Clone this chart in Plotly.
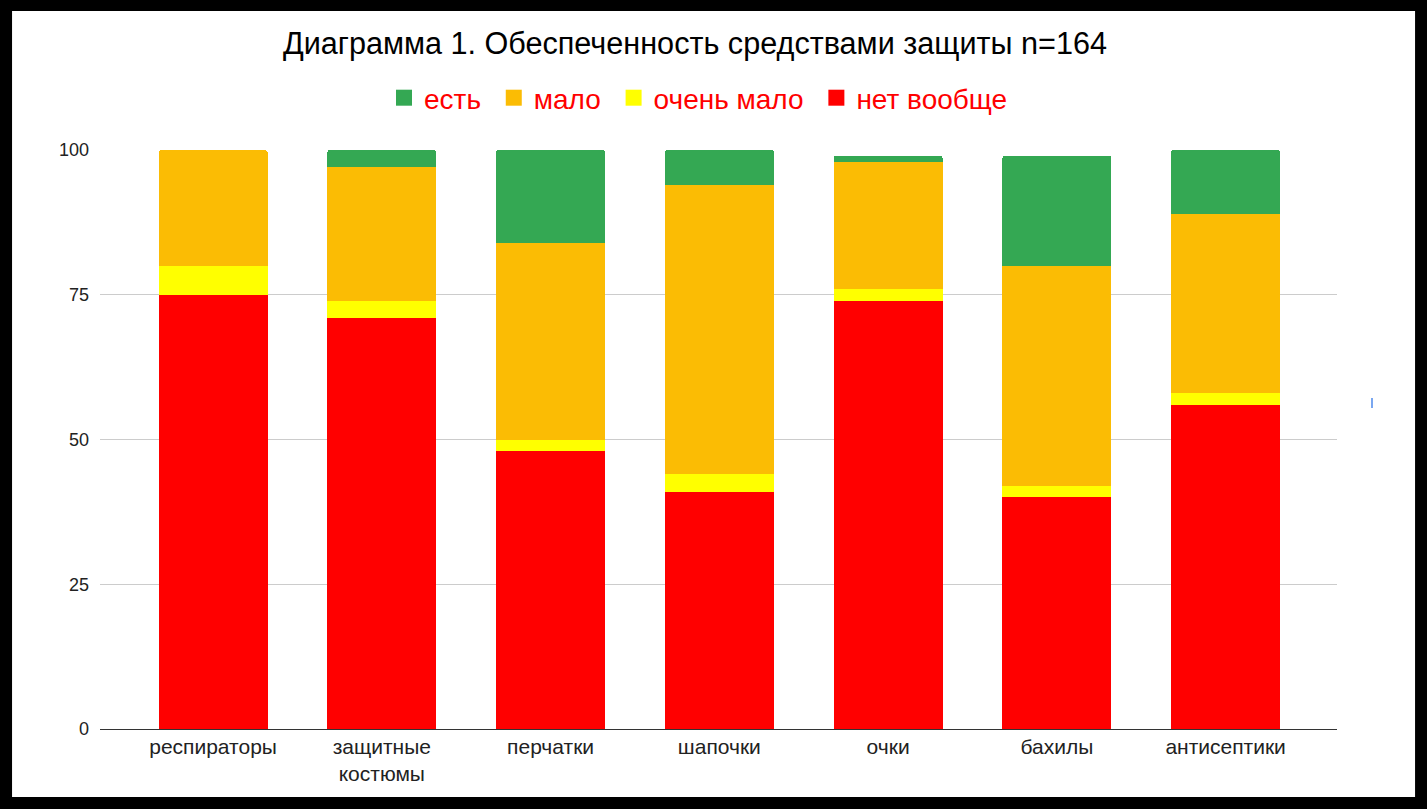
import plotly.graph_objects as go

categories = ["респираторы", "защитные<br>костюмы", "перчатки", "шапочки", "очки", "бахилы", "антисептики"]
net_voobshe = [75, 71, 48, 41, 74, 40, 56]
ochen_malo = [5, 3, 2, 3, 2, 2, 2]
malo = [20, 23, 34, 50, 22, 38, 31]
est = [0, 3, 16, 6, 1, 19, 11]
tick_vals = [0, 25, 50, 75, 100]

series = [
    ("нет вообще", net_voobshe, "#ff0000"),
    ("очень мало", ochen_malo, "#ffff00"),
    ("мало", malo, "#fbbc04"),
    ("есть", est, "#34a853"),
]

FONT = "Arial, Liberation Sans, sans-serif"
fig = go.Figure()
x_idx = list(range(len(categories)))
for name, vals, color in series:
    fig.add_trace(go.Bar(x=x_idx, y=vals, name=name, marker=dict(color=color, line=dict(width=0)),
                         showlegend=False))
# legend entries (ordered: есть, мало, очень мало, нет вообще)
for name, vals, color in reversed(series):
    fig.add_trace(go.Scatter(x=[None], y=[None], mode="markers", name=name + "\u00a0",
                             marker=dict(symbol="square", size=18, color=color)))

fig.update_layout(
    barmode="stack",
    bargap=0.354,
    barcornerradius=3,
    width=1427, height=809,
    paper_bgcolor="black",
    plot_bgcolor="white",
    margin=dict(l=100, r=90, t=150, b=80),
    font=dict(family=FONT, color="#222222"),
    title=dict(text="Диаграмма 1. Обеспеченность средствами защиты n=164",
               xref="container", x=0.487, xanchor="center",
               yref="container", y=1 - 43 / 809, yanchor="middle",
               font=dict(size=30.6, color="#000000", family=FONT)),
    legend=dict(orientation="h", traceorder="normal", xref="container", x=702 / 1427, xanchor="center",
                yref="container", y=1 - 98 / 809, yanchor="middle",
                font=dict(size=28, color="#ff0000", family=FONT),
                bgcolor="rgba(0,0,0,0)", itemwidth=30, tracegroupgap=0),
    xaxis=dict(range=[-0.67, 6.66], tickmode="array", tickvals=x_idx, ticktext=categories,
               tickfont=dict(size=21, color="#222222"), showgrid=False, zeroline=False,
               showline=False, ticks="", ticklabelstandoff=3),
    yaxis=dict(range=[0, 100], tickmode="array", tickvals=tick_vals,
               tickfont=dict(size=18, color="#222222"), showgrid=True, gridcolor="#cccccc",
               gridwidth=1, zeroline=True, zerolinecolor="#333333", zerolinewidth=1,
               ticklabelstandoff=10, ticks=""),
    shapes=[
        dict(type="rect", xref="paper", yref="paper", x0=-0.0711, x1=1.0631, y0=-0.1174, y1=1.2401,
             fillcolor="white", line=dict(width=0), layer="below"),
        dict(type="line", xref="paper", yref="paper", x0=1.0283, x1=1.0283, y0=0.5544, y1=0.5717,
             line=dict(color="#7aa7f0", width=2)),
    ],
)

fig.write_html("out.html", config={"displayModeBar": False},
               post_script="document.body.style.margin='0';document.body.style.overflow='hidden';")
